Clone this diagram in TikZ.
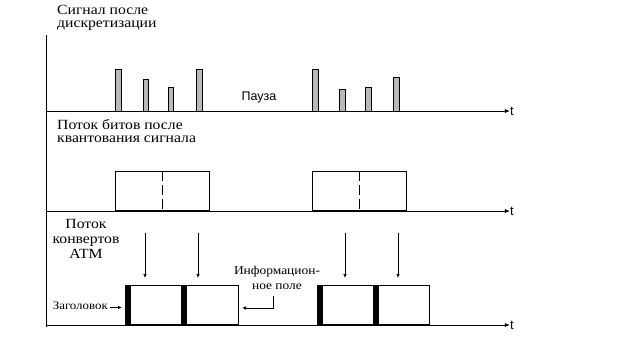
\documentclass[tikz,border=0pt]{standalone}
\usepackage{fontspec}
\setmainfont{Liberation Serif}[FakeStretch=1.12]
\setsansfont{Liberation Sans}
\usetikzlibrary{arrows.meta}
\begin{document}
\begin{tikzpicture}[x=1pt,y=-1pt,
  ax/.style={line width=0.8pt,-{Latex[length=5pt,width=4pt]}},
  bar/.style={draw=black,line width=0.6pt,fill=gray!55},
  cellbox/.style={draw=black,line width=0.8pt},
  hdr/.style={fill=black,draw=none},
  dn/.style={line width=0.7pt,-{Latex[length=4pt,width=3.5pt]}},
  lbl/.style={font=\fontsize{14}{13}\selectfont,align=left,inner sep=0pt},
  tl/.style={font=\sffamily\fontsize{13}{13}\selectfont,inner sep=0pt}]
\useasboundingbox (0,0) rectangle (640,360);
% vertical axis
\draw[line width=0.8pt] (46,35) -- (46,327);
% time axes
\node[tl] (t1) at (512,111) {t};
\node[tl] (t2) at (512,211) {t};
\node[tl] (t3) at (512,325) {t};
\coordinate (a1) at (46,111);
\coordinate (a2) at (46,211);
\coordinate (a3) at (46,325);
\draw[ax] (a1) -- (t1.west);
\draw[ax] (a2) -- (t2.west);
\draw[ax] (a3) -- (t3.west);
% panel 1
\node[lbl,anchor=north west] (lab1) at (57,5) {Сигнал после\\дискретизации};
\foreach \xa/\xb/\yt in {115/121/69,143/148/79,168/173/87,196/202/69,312/318/69,339/345/89,365/371/87,393/399/77}
  \draw[bar] (\xa,111) rectangle (\xb,\yt);
\node[font=\sffamily\fontsize{12.5}{12}\selectfont,inner sep=0pt] (pause) at (259,97) {Пауза};
% panel 2
\node[lbl,anchor=north west] (lab2) at (57,119) {Поток битов после\\квантования сигнала};
\node[cellbox,anchor=south west,minimum width=94pt,minimum height=39pt,inner sep=0pt] (b1) at (115,211) {};
\node[cellbox,anchor=south west,minimum width=94pt,minimum height=39pt,inner sep=0pt] (b2) at (312,211) {};
\draw[line width=0.8pt,dash pattern=on 10pt off 4pt] (b1.north) -- (b1.south);
\draw[line width=0.8pt,dash pattern=on 10pt off 4pt] (b2.north) -- (b2.south);
% panel 3
\node[align=center,inner sep=0pt,anchor=north,font=\fontsize{14}{15}\selectfont] (lab3) at (86,219) {Поток\\конвертов\\ATM};
\node[cellbox,anchor=south west,minimum width=112.5pt,minimum height=39pt,inner sep=0pt] (c1) at (125,325) {};
\node[cellbox,anchor=south west,minimum width=112pt,minimum height=39pt,inner sep=0pt] (c2) at (317,325) {};
\fill[hdr] (125,286) rectangle (131,325);
\fill[hdr] (181,286) rectangle (187,325);
\fill[hdr] (317,286) rectangle (323,325);
\fill[hdr] (373,286) rectangle (379,325);
% down arrows
\foreach \x in {145,198,345,398}{
  \coordinate (s\x) at (\x,233);
  \coordinate (e\x) at (\x,278);
  \draw[dn] (s\x) -- (e\x);
}
\node[font=\fontsize{11.5}{12}\selectfont,inner sep=0pt,anchor=east] (hd) at (108,306) {Заголовок};
\coordinate (hs) at (110,307.5);
\coordinate (he) at (122,307.5);
\draw[dn,line width=0.8pt] (hs) -- (he);
\node[font=\fontsize{12}{14.5}\selectfont,align=center,inner sep=0pt] (info) at (277,278) {Информацион-\\ное поле};
\coordinate (ib) at (273,296);
\coordinate (ie) at (242,308);
\draw[dn] (ib) |- (ie);
\end{tikzpicture}
\end{document}
